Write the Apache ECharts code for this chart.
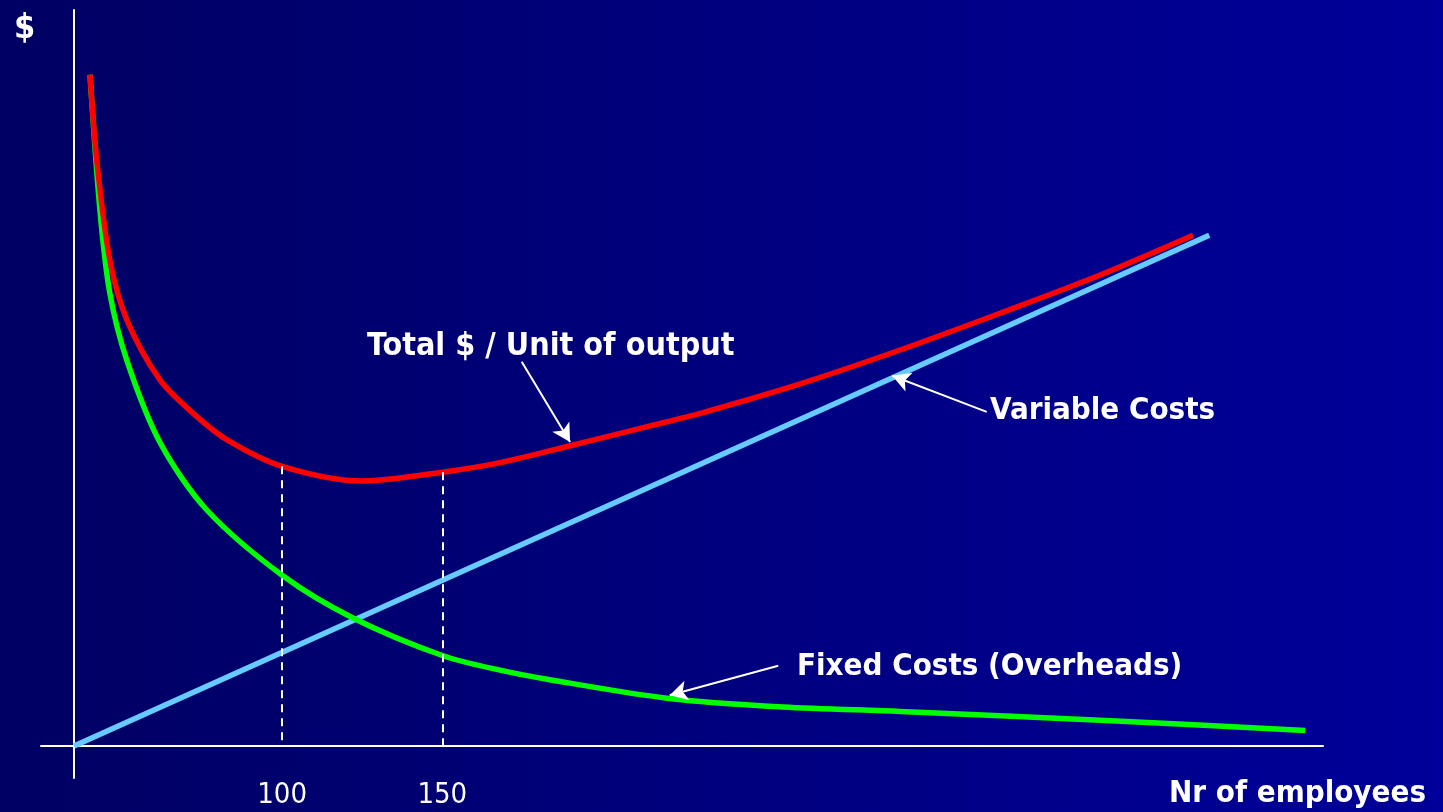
<!DOCTYPE html>
<html>
<head>
<meta charset="utf-8">
<title>Cost per unit of output vs. number of employees</title>
<script src="https://cdn.jsdelivr.net/npm/echarts@6/dist/echarts.min.js"></script>
<style>
  html, body { margin: 0; padding: 0; width: 100%; height: 100%; overflow: hidden; }
  #chart { width: 1443px; height: 812px; }
</style>
</head>
<body>
<div id="chart"></div>
<script>
// Number of employees on x, cost ($) on y (relative units).
const totalCost = [
  [40.0, 91.2], [42.1, 79.6], [46.2, 66.0], [51.5, 57.9], [61.9, 49.7],
  [72.2, 45.2], [82.8, 41.6], [100, 38.0], [125.2, 36.0], [150, 37.2],
  [168.0, 38.5], [189.9, 40.8], [214.9, 43.5], [230.5, 45.2], [261.7, 49.2],
  [292.9, 53.8], [324.1, 58.8], [355.4, 64.0], [384.4, 69.4]
];
const fixedCost = [
  [40.0, 91.2], [43.1, 72.8], [46.2, 61.5], [51.5, 52.4], [61.9, 41.2],
  [76.4, 32.1], [100, 23.2], [122.1, 17.4], [150, 12.3], [168.0, 10.3],
  [183.6, 9.0], [220.1, 6.5], [256.4, 5.3], [293.0, 4.7], [355.4, 3.5],
  [419.4, 2.1]
];
const variableCost = [[35, 0], [389.5, 69.4]];

// Employee counts marked on the x axis with dashed drop lines.
const tickLabels = [100, 150];

// Callout arrows: tail -> head, in data coordinates.
const callouts = [
  { series: 'total',    from: [174.8, 52.2], to: [189.9, 41.3] },
  { series: 'variable', from: [320.0, 45.4], to: [290.5, 50.3] },
  { series: 'fixed',    from: [254.9, 10.9], to: [221.0, 6.9] }
];

const X_MIN = 35, X_MAX = 425, Y_MAX = 100;
const FONT = '"DejaVu Sans Condensed", "DejaVu Sans", sans-serif';
const LINE_W = 5.5;
const SMOOTH = 0.3;

const chart = echarts.init(document.getElementById('chart'), null, { renderer: 'canvas' });

function arrowLines(name) {
  return callouts.filter(c => c.series === name).map(c => [
    { coord: c.from, symbol: 'none', lineStyle: { type: 'solid' } },
    { coord: c.to, symbol: 'arrow', symbolSize: [15, 18] }
  ]);
}
const arrowStyle = {
  silent: true,
  label: { show: false },
  lineStyle: { color: '#ffffff', width: 2, type: 'solid' },
  emphasis: { disabled: true }
};

// Dashed drop lines from the total-cost curve down to the axis.
const dropLines = tickLabels.map(v => {
  const p = totalCost.find(d => d[0] === v);
  return [{ coord: [v, p[1]], symbol: 'none' }, { coord: [v, 0], symbol: 'none' }];
});

const option = {
  backgroundColor: {
    type: 'linear', x: 0, y: 0, x2: 1, y2: 0,
    colorStops: [
      { offset: 0, color: '#000062' },
      { offset: 1, color: '#00009a' }
    ]
  },
  animation: false,
  grid: [
    { left: 74, right: 120, top: 10, bottom: 66 },   // plotting area
    { left: 74, right: 120, top: 10, bottom: 34 },   // vertical axis line
    { left: 41, right: 120, top: 10, bottom: 66 }    // horizontal axis line
  ],
  xAxis: [
    {
      gridIndex: 0, type: 'value', min: X_MIN, max: X_MAX,
      axisLine: { show: false }, axisTick: { show: false }, splitLine: { show: false },
      axisLabel: {
        customValues: tickLabels, color: '#ffffff', fontSize: 29,
        fontFamily: FONT, margin: 35
      }
    },
    { gridIndex: 1, type: 'value', show: false },
    {
      gridIndex: 2, type: 'value',
      axisLine: { show: true, onZero: false, lineStyle: { color: '#ffffff', width: 2 } },
      axisTick: { show: false }, axisLabel: { show: false }, splitLine: { show: false }
    }
  ],
  yAxis: [
    { gridIndex: 0, type: 'value', min: 0, max: Y_MAX, show: false },
    {
      gridIndex: 1, type: 'value',
      axisLine: { show: true, onZero: false, lineStyle: { color: '#ffffff', width: 2 } },
      axisTick: { show: false }, axisLabel: { show: false }, splitLine: { show: false }
    },
    { gridIndex: 2, type: 'value', show: false }
  ],
  series: [
    {
      name: 'Variable Costs', type: 'line', data: variableCost,
      showSymbol: false, silent: true,
      lineStyle: { color: '#66ccff', width: LINE_W, cap: 'butt' },
      markLine: Object.assign({ data: arrowLines('variable') }, arrowStyle)
    },
    {
      name: 'Fixed Costs (Overheads)', type: 'line', data: fixedCost,
      showSymbol: false, silent: true, smooth: SMOOTH,
      lineStyle: { color: '#00ff00', width: LINE_W, cap: 'butt' },
      markLine: Object.assign({ data: arrowLines('fixed') }, arrowStyle)
    },
    {
      name: 'Total $ / Unit of output', type: 'line', data: totalCost,
      showSymbol: false, silent: true, smooth: SMOOTH,
      lineStyle: { color: '#ff0000', width: LINE_W, cap: 'butt' },
      markLine: {
        silent: true, label: { show: false },
        emphasis: { disabled: true },
        data: dropLines.concat(arrowLines('total')),
        lineStyle: { color: '#ffffff', width: 2, type: [8, 6] }
      }
    }
  ],
  graphic: [
    { type: 'text', left: 14, top: 12,
      style: { text: '$', fill: '#ffffff', font: 'bold 34px ' + FONT } },
    { type: 'text', left: 367, top: 331,
      style: { text: 'Total $ / Unit of output', fill: '#ffffff', font: 'bold 32px ' + FONT } },
    { type: 'text', left: 990, top: 395,
      style: { text: 'Variable Costs', fill: '#ffffff', font: 'bold 31px ' + FONT } },
    { type: 'text', left: 797, top: 651,
      style: { text: 'Fixed Costs (Overheads)', fill: '#ffffff', font: 'bold 31px ' + FONT } },
    { type: 'text', right: 17, top: 778,
      style: { text: 'Nr of employees', fill: '#ffffff', font: 'bold 31px ' + FONT } }
  ]
};

chart.setOption(option);
</script>
</body>
</html>
